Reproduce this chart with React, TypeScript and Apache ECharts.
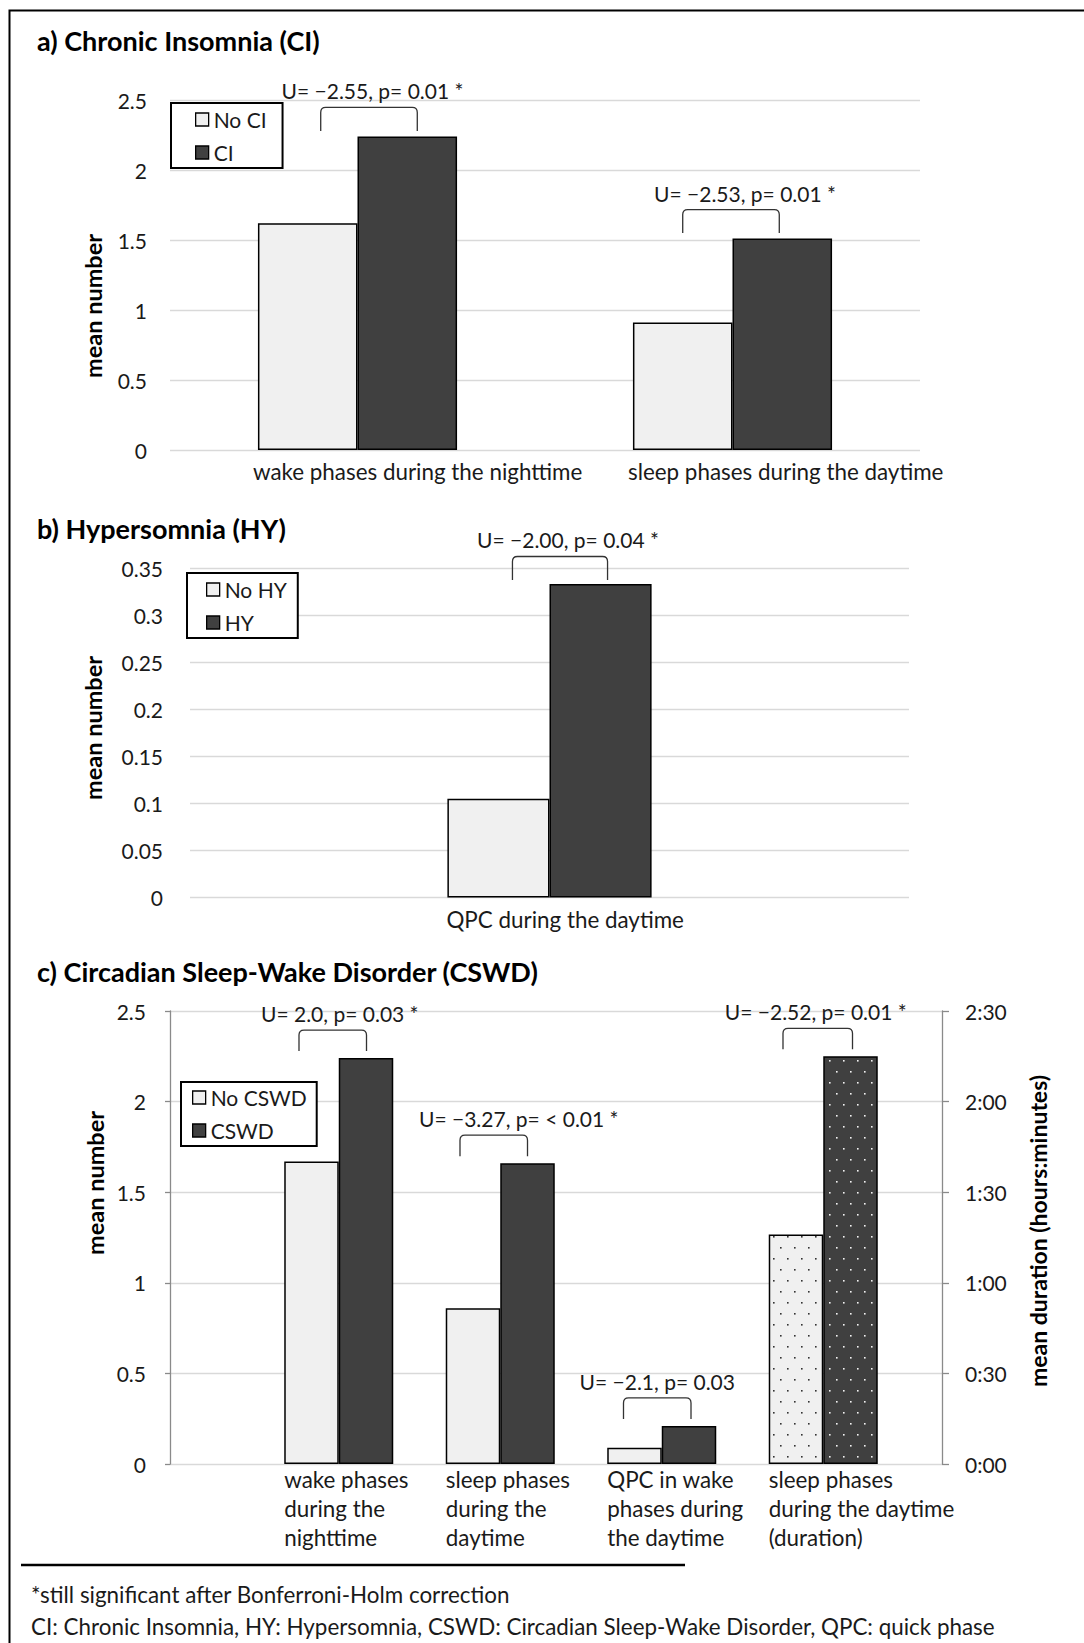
import React, { useEffect, useRef } from 'react';
import * as echarts from 'echarts';

// ---------------- data ----------------
const ciCategories = ['wake phases during the nighttime', 'sleep phases during the daytime'];
const ciNoValues = [1.62, 0.91];
const ciValues = [2.24, 1.51];
const ciTests = ['U= \u22122.55, p= 0.01 *', 'U= \u22122.53, p= 0.01 *'];
const ciTicks = [0, 0.5, 1, 1.5, 2, 2.5];

const hyCategories = ['QPC during the daytime'];
const hyNoValues = [0.105];
const hyValues = [0.333];
const hyTests = ['U= \u22122.00, p= 0.04 *'];
const hyTicks = [0, 0.05, 0.1, 0.15, 0.2, 0.25, 0.3, 0.35];

const cswdCategories = [
  'wake phases\nduring the\nnighttime',
  'sleep phases\nduring the\ndaytime',
  'QPC in wake\nphases during\nthe daytime',
  'sleep phases\nduring the daytime\n(duration)',
];
const cswdNoValues = [1.67, 0.86, 0.09, null];
const cswdValues = [2.24, 1.66, 0.21, null];
const cswdNoDurationMin = [null, null, null, 76];
const cswdDurationMin = [null, null, null, 135];
const cswdTests = ['U= 2.0, p= 0.03 *', 'U= \u22123.27, p= < 0.01 *', 'U= \u22122.1, p= 0.03', 'U= \u22122.52, p= 0.01 *'];
const cswdTicks = [0, 0.5, 1, 1.5, 2, 2.5];
const durationTicksMin = [0, 30, 60, 90, 120, 150];

// ---------------- styling / layout ----------------
const FONT = 'Lato, "Open Sans", sans-serif';
const FS = 21;       // ticks, legend, test annotations
const FS_LBL = 22.4; // category labels, footnotes
const TXT = '#1a1a1a';
const LIGHT = '#f0f0f0';
const DARK = '#404040';
const GRIDC = '#d9d9d9';
const AXISC = '#8a8a8a';
const BAR_BORDER = { borderColor: '#000', borderWidth: 1.5 };
const GAP_A = 0.469;
const GAP_B = 0.716;
const GAP_C = 0.325;

type BracketLayout = { dxL: number[]; dxR: number[]; textDx: number[]; gap: number; height: number; textOffset: number };
const ciBracketLayout: BracketLayout = { dxL: [13, 0], dxR: [10, -3], textDx: [3.5, 14], gap: 5.5, height: 23.5, textOffset: 16.5 };
const hyBracketLayout: BracketLayout = { dxL: [14], dxR: [7], textDx: [8], gap: 4, height: 23.5, textOffset: 17 };
const cswdBracketLayout: BracketLayout = { dxL: [-12.5, -13, -11, -13], dxR: [0.5, 0, 2, 2], textDx: [7, 25, 0, -2], gap: 7, height: 21, textOffset: 16.5 };

function dotPattern(bg: string, dot: string) {
  const w = 14, h = 22;
  const c = document.createElement('canvas');
  c.width = w; c.height = h;
  const ctx = c.getContext('2d')!;
  ctx.fillStyle = bg; ctx.fillRect(0, 0, w, h);
  ctx.fillStyle = dot;
  ctx.fillRect(3, 4, 1.6, 1.6);
  ctx.fillRect(10, 15, 1.6, 1.6);
  return { image: c, repeat: 'repeat', imageWidth: w, imageHeight: h } as any;
}

const tickRange = (t: number[]) => ({ min: t[0], max: t[t.length - 1], interval: +(t[1] - t[0]).toFixed(6) });
const fmtNum = (v: number) => String(parseFloat(v.toFixed(3)));
const fmtMin = (v: number) => `${Math.floor(v / 60)}:${String(Math.round(v % 60)).padStart(2, '0')}`;

function pairTops(a: (number | null)[], b: (number | null)[]) {
  const out: number[][] = [];
  a.forEach((v, i) => {
    const w = b[i];
    if (v != null && w != null) out.push([i, Math.max(v, w)]);
  });
  return out;
}

function bracketSeries(xi: number, yi: number, gap: number, data: number[][], texts: string[], L: BracketLayout) {
  return {
    type: 'custom', xAxisIndex: xi, yAxisIndex: yi, silent: true, clip: false, z: 5,
    data,
    renderItem: (params: any, api: any) => {
      const cat = api.value(0), v = api.value(1);
      const p = api.coord([cat, v]);
      const band = api.size([1, 0], [cat, v])[0];
      const w = band * (1 - gap) / 2;
      const idx = data[params.dataIndex][0];
      const xl = p[0] - w / 2 + L.dxL[idx], xr = p[0] + w / 2 + L.dxR[idx];
      const yb = p[1] - L.gap, yt = yb - L.height, r = 5;
      return {
        type: 'group',
        children: [
          {
            type: 'path',
            shape: { pathData: `M${xl},${yb}L${xl},${yt + r}Q${xl},${yt} ${xl + r},${yt}L${xr - r},${yt}Q${xr},${yt} ${xr},${yt + r}L${xr},${yb}` },
            style: { fill: 'none', stroke: '#333', lineWidth: 1.3 },
          },
          {
            type: 'text', x: (xl + xr) / 2 + L.textDx[idx], y: yt - L.textOffset,
            style: { text: texts[idx], fill: TXT, fontFamily: FONT, fontSize: FS, textAlign: 'center', textVerticalAlign: 'middle' },
          },
        ],
      };
    },
  };
}

function labelSeries(xi: number, yi: number, gap: number, cats: string[], pad: number, dy: number, lineHeight: number, vAlign: string) {
  return {
    type: 'custom', xAxisIndex: xi, yAxisIndex: yi, silent: true, clip: false, z: 5,
    data: cats.map((_, i) => [i, 0]),
    renderItem: (params: any, api: any) => {
      const cat = api.value(0);
      const p = api.coord([cat, 0]);
      const band = api.size([1, 0], [cat, 0])[0];
      const w = band * (1 - gap) / 2;
      return {
        type: 'text', x: p[0] - w + pad, y: p[1] + dy,
        style: { text: cats[params.dataIndex], fill: TXT, fontFamily: FONT, fontSize: FS_LBL, lineHeight, textAlign: 'left', textVerticalAlign: vAlign },
      };
    },
  };
}

function buildOption() {
  const hiddenCat = (gridIndex: number, data: string[]) => ({
    gridIndex, type: 'category', data, axisLine: { show: false }, axisTick: { show: false }, axisLabel: { show: false }, splitLine: { show: false },
  });
  const lbl = (extra: any) => ({ fontFamily: FONT, fontSize: FS, color: TXT, ...extra });
  const legendBase = {
    orient: 'vertical', icon: 'rect', itemWidth: 13, itemHeight: 13, itemGap: 12,
    borderColor: '#000', borderWidth: 2, backgroundColor: '#fff', selectedMode: false,
    textStyle: { fontFamily: FONT, fontSize: FS, color: TXT },
    itemStyle: { borderColor: '#000', borderWidth: 1.3 },
  };
  const title = (text: string, y: number) => ({
    type: 'text', x: 37, y, silent: true,
    style: { text, fill: '#000', fontFamily: FONT, fontSize: 27, fontWeight: 'bold', textAlign: 'left', textVerticalAlign: 'middle' },
  });
  const axisName = (text: string, x: number, y: number, size: number) => ({
    type: 'text', x, y, rotation: Math.PI / 2, silent: true,
    style: { text, fill: '#000', fontFamily: FONT, fontSize: size, fontWeight: 'bold', textAlign: 'center', textVerticalAlign: 'middle' },
  });
  const foot = (text: string, y: number) => ({
    type: 'text', x: 31, y, silent: true,
    style: { text, fill: TXT, fontFamily: FONT, fontSize: FS_LBL, textAlign: 'left', textVerticalAlign: 'middle' },
  });

  const lightDots = dotPattern(LIGHT, '#333');
  const darkDots = dotPattern(DARK, '#f4f4f4');

  return {
    animation: false,
    textStyle: { fontFamily: FONT },
    grid: [
      { left: 170, top: 100, width: 750, height: 350 },
      { left: 190, top: 568, width: 719, height: 329.5 },
      { left: 170, top: 1011, width: 772, height: 453 },
      { left: 258, top: 1011, width: 646, height: 453 },
      { left: 258, top: 1011, width: 646, height: 453 },
    ],
    xAxis: [
      hiddenCat(0, ciCategories),
      hiddenCat(1, hyCategories),
      { gridIndex: 2, type: 'value', min: 0, max: 1, show: false },
      hiddenCat(3, cswdCategories),
      hiddenCat(4, cswdCategories),
    ],
    yAxis: [
      {
        gridIndex: 0, type: 'value', ...tickRange(ciTicks),
        axisLine: { show: false }, axisTick: { show: false },
        splitLine: { lineStyle: { color: GRIDC, width: 1.3 } },
        axisLabel: lbl({ margin: 23, padding: [9, 0, 0, 0], formatter: fmtNum }),
      },
      {
        gridIndex: 1, type: 'value', ...tickRange(hyTicks),
        axisLine: { show: false }, axisTick: { show: false },
        splitLine: { lineStyle: { color: GRIDC, width: 1.3 } },
        axisLabel: lbl({ margin: 27, padding: [7, 0, 0, 0], formatter: fmtNum }),
      },
      {
        gridIndex: 2, type: 'value', position: 'left', ...tickRange(cswdTicks),
        axisLine: { show: true, onZero: false, lineStyle: { color: AXISC, width: 1.3 } },
        axisTick: { show: true, length: 5, lineStyle: { color: AXISC, width: 1.3 } },
        splitLine: { lineStyle: { color: GRIDC, width: 1.3 } },
        axisLabel: lbl({ margin: 24, padding: [5, 0, 0, 0], formatter: fmtNum }),
      },
      {
        gridIndex: 2, type: 'value', position: 'right', ...tickRange(durationTicksMin),
        axisLine: { show: true, onZero: false, lineStyle: { color: AXISC, width: 1.3 } },
        axisTick: { show: true, length: 7, lineStyle: { color: AXISC, width: 1.3 } },
        splitLine: { show: false },
        axisLabel: lbl({ margin: 23, padding: [5, 0, 0, 0], formatter: fmtMin }),
      },
      { gridIndex: 3, type: 'value', ...tickRange(cswdTicks), show: false },
      { gridIndex: 4, type: 'value', ...tickRange(durationTicksMin), show: false },
    ],
    legend: [
      { ...legendBase, left: 171, top: 103, padding: [6, 16, 5, 24], data: ['No CI', 'CI'] },
      { ...legendBase, left: 187, top: 573, padding: [6, 11, 5, 19], data: ['No HY', 'HY'] },
      { ...legendBase, left: 181, top: 1082, padding: [5, 10, 5, 11], data: ['No CSWD', 'CSWD'] },
    ],
    series: [
      { type: 'bar', name: 'No CI', xAxisIndex: 0, yAxisIndex: 0, data: ciNoValues, barGap: '0%', barCategoryGap: `${GAP_A * 100}%`, itemStyle: { color: LIGHT, ...BAR_BORDER } },
      { type: 'bar', name: 'CI', xAxisIndex: 0, yAxisIndex: 0, data: ciValues, barGap: '0%', barCategoryGap: `${GAP_A * 100}%`, itemStyle: { color: DARK, ...BAR_BORDER } },
      bracketSeries(0, 0, GAP_A, pairTops(ciNoValues, ciValues), ciTests, ciBracketLayout),
      labelSeries(0, 0, GAP_A, ciCategories, -5, 21, 26, 'middle'),

      { type: 'bar', name: 'No HY', xAxisIndex: 1, yAxisIndex: 1, data: hyNoValues, barGap: '0%', barCategoryGap: `${GAP_B * 100}%`, itemStyle: { color: LIGHT, ...BAR_BORDER } },
      { type: 'bar', name: 'HY', xAxisIndex: 1, yAxisIndex: 1, data: hyValues, barGap: '0%', barCategoryGap: `${GAP_B * 100}%`, itemStyle: { color: DARK, ...BAR_BORDER } },
      bracketSeries(1, 1, GAP_B, pairTops(hyNoValues, hyValues), hyTests, hyBracketLayout),
      labelSeries(1, 1, GAP_B, hyCategories, -1, 22, 26, 'middle'),

      { type: 'bar', name: 'No CSWD', xAxisIndex: 3, yAxisIndex: 4, data: cswdNoValues, barGap: '0%', barCategoryGap: `${GAP_C * 100}%`, itemStyle: { color: LIGHT, ...BAR_BORDER } },
      { type: 'bar', name: 'CSWD', xAxisIndex: 3, yAxisIndex: 4, data: cswdValues, barGap: '0%', barCategoryGap: `${GAP_C * 100}%`, itemStyle: { color: DARK, ...BAR_BORDER } },
      { type: 'bar', name: 'No CSWD (duration)', xAxisIndex: 4, yAxisIndex: 5, data: cswdNoDurationMin, barGap: '0%', barCategoryGap: `${GAP_C * 100}%`, itemStyle: { color: lightDots, ...BAR_BORDER } },
      { type: 'bar', name: 'CSWD (duration)', xAxisIndex: 4, yAxisIndex: 5, data: cswdDurationMin, barGap: '0%', barCategoryGap: `${GAP_C * 100}%`, itemStyle: { color: darkDots, ...BAR_BORDER } },
      bracketSeries(3, 4, GAP_C, pairTops(cswdNoValues, cswdValues), cswdTests, cswdBracketLayout),
      bracketSeries(4, 5, GAP_C, pairTops(cswdNoDurationMin, cswdDurationMin), cswdTests, cswdBracketLayout),
      labelSeries(3, 4, GAP_C, cswdCategories, 0, 1, 29, 'top'),
    ],
    graphic: {
      elements: [
        { type: 'rect', silent: true, shape: { x: 9.5, y: 10.5, width: 1200, height: 1800 }, style: { fill: 'none', stroke: '#000', lineWidth: 2 } },
        title('a) Chronic Insomnia (CI)', 40),
        title('b) Hypersomnia (HY)', 528),
        title('c) Circadian Sleep-Wake Disorder (CSWD)', 971),
        axisName('mean number', 93, 306, 23.5),
        axisName('mean number', 93, 728, 23.5),
        axisName('mean number', 95, 1183, 23.5),
        axisName('mean duration (hours:minutes)', 1038, 1231, 23),
        { type: 'line', silent: true, shape: { x1: 21, y1: 1565, x2: 685, y2: 1565 }, style: { stroke: '#000', lineWidth: 2.5 } },
        foot('*still significant after Bonferroni-Holm correction', 1594),
        foot('CI: Chronic Insomnia, HY: Hypersomnia, CSWD: Circadian Sleep-Wake Disorder, QPC: quick phase', 1626),
      ],
    },
  };
}

export default function App() {
  const ref = useRef<HTMLDivElement>(null);
  useEffect(() => {
    const chart = echarts.init(ref.current!, null, { renderer: 'svg' });
    chart.setOption(buildOption() as any);
    return () => chart.dispose();
  }, []);
  return (
    <div
      ref={ref}
      style={{ position: 'absolute', left: 0, top: 0, width: 1084, height: 1643, background: '#fff' }}
    />
  );
}
